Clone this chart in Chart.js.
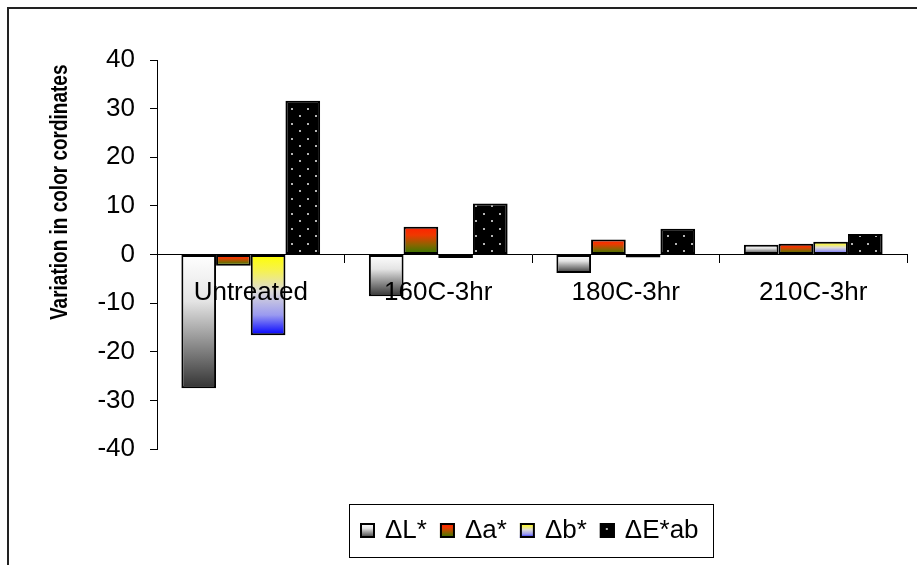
<!DOCTYPE html>
<html lang="en">
<head>
  <meta charset="UTF-8">
  <title>Variation in color coordinates</title>
  <script src="https://cdn.jsdelivr.net/npm/chart.js"></script>
  <style>
    body { margin: 0; background: #fff; }
    canvas { display: block; }
  </style>
</head>
<body>
  <canvas id="colorChart" width="917" height="565"></canvas>

  <script>
    // data
    const categories = ['Untreated', '160C-3hr', '180C-3hr', '210C-3hr'];
    const dL = [-27.5, -8.6, -3.8, 2.0];
    const da = [-2.3, 5.7, 3.1, 2.2];
    const db = [-16.6, -0.7, -0.6, 2.6];
    const dE = [31.6, 10.5, 5.3, 4.2];
    const seriesNames = ['\u0394L*', '\u0394a*', '\u0394b*', '\u0394E*ab'];
    const yTicks = [-40, -30, -20, -10, 0, 10, 20, 30, 40];

    const FONT = '"Liberation Sans", Arial, sans-serif';

    // gradient stops, top of bar -> bottom of bar
    const gradL = [[0, '#ffffff'], [0.35, '#e4e4e4'], [1, '#333333']];
    const gradA = [[0, '#ff2000'], [0.3, '#f03800'], [0.65, '#8a6400'], [1, '#2a7a00']];
    const gradB = [[0, '#ffff00'], [0.2, '#f6f250'], [0.45, '#dedcd8'], [0.75, '#9a9af0'], [1, '#0000ff']];

    function barFill(stops) {
      return (c) => {
        const chart = c.chart;
        const y = chart.scales && chart.scales.y;
        if (!y || c.type !== 'data' || y.bottom === undefined) return stops[1][1];
        const a = y.getPixelForValue(0);
        const b = y.getPixelForValue(c.raw);
        const top = Math.min(a, b), bot = Math.max(a, b);
        if (bot - top < 1) return stops[stops.length - 1][1];
        const g = chart.ctx.createLinearGradient(0, top, 0, bot);
        stops.forEach(s => g.addColorStop(s[0], s[1]));
        return g;
      };
    }

    // black with small grey dots
    function dotPattern() {
      const t = document.createElement('canvas');
      t.width = 16; t.height = 15;
      const p = t.getContext('2d');
      p.fillStyle = '#000';
      p.fillRect(0, 0, 16, 15);
      p.fillStyle = '#b4b4b4';
      p.fillRect(3, 3, 2, 2);
      p.fillRect(11, 10, 2, 2);
      return p.createPattern(t, 'repeat');
    }
    const dots = dotPattern();

    const frameAndText = {
      id: 'frameAndText',
      beforeDraw(chart) {
        const ctx = chart.ctx;
        ctx.save();
        ctx.fillStyle = '#fff';
        ctx.fillRect(0, 0, chart.width, chart.height);
        ctx.strokeStyle = '#222';
        ctx.lineWidth = 2;
        ctx.strokeRect(8, 8, chart.width + 50, chart.height + 50);
        ctx.restore();
      },
      afterDraw(chart) {
        const ctx = chart.ctx;
        const area = chart.chartArea;
        ctx.save();

        // y axis title (stretched across like in the original)
        ctx.translate(60, area.top + (area.bottom - area.top) * 0.34);
        ctx.rotate(-Math.PI / 2);
        ctx.scale(1, 1.3);
        ctx.font = 'bold 19px ' + FONT;
        ctx.fillStyle = '#000';
        ctx.textAlign = 'center';
        ctx.textBaseline = 'middle';
        ctx.fillText('Variation in color cordinates', 0, 0);
        ctx.setTransform(1, 0, 0, 1, 0, 0);

        // legend box
        ctx.font = '26px ' + FONT;
        const sw = 15, gap = 10, itemGap = 13, padL = 11, padR = 14;
        const widths = seriesNames.map(n => ctx.measureText(n).width);
        let content = 0;
        widths.forEach((w, i) => { content += sw + gap + w + (i < widths.length - 1 ? itemGap : 0); });
        const boxW = Math.round(content + padL + padR);
        const boxX = Math.round((area.left + area.right) / 2 - boxW / 2 - 1);
        const boxY = 504, boxH = 53;
        ctx.strokeStyle = '#000';
        ctx.lineWidth = 1;
        ctx.strokeRect(boxX + 0.5, boxY + 0.5, boxW, boxH);

        const fills = [gradL, gradA, gradB, null];
        let x = boxX + padL;
        const sy = 523;
        seriesNames.forEach((name, i) => {
          if (fills[i]) {
            const g = ctx.createLinearGradient(0, sy, 0, sy + sw);
            fills[i].forEach(s => g.addColorStop(s[0], s[1]));
            ctx.fillStyle = g;
          } else {
            ctx.fillStyle = '#000';
          }
          ctx.fillRect(x, sy, sw, sw);
          if (!fills[i]) {
            ctx.fillStyle = '#b4b4b4';
            ctx.fillRect(x + 6, sy + 5, 2, 2);
          }
          ctx.strokeStyle = '#000';
          ctx.lineWidth = 2;
          ctx.strokeRect(x + 1, sy + 1, sw - 2, sw - 2);
          ctx.fillStyle = '#000';
          ctx.textAlign = 'left';
          ctx.textBaseline = 'alphabetic';
          ctx.fillText(name, x + sw + gap, 538);
          x += sw + gap + widths[i] + itemGap;
        });
        ctx.restore();
      }
    };

    const barStyle = {
      borderColor: '#000',
      borderWidth: 2,
      borderSkipped: false,
      barPercentage: 1,
      categoryPercentage: 0.74
    };

    new Chart(document.getElementById('colorChart'), {
      type: 'bar',
      data: {
        labels: categories,
        datasets: [
          { label: seriesNames[0], data: dL, backgroundColor: barFill(gradL), ...barStyle },
          { label: seriesNames[1], data: da, backgroundColor: barFill(gradA), ...barStyle },
          { label: seriesNames[2], data: db, backgroundColor: barFill(gradB), ...barStyle },
          { label: seriesNames[3], data: dE, backgroundColor: dots, ...barStyle }
        ]
      },
      options: {
        responsive: false,
        animation: false,
        events: [],
        layout: { padding: { left: 0, top: 60, right: 10, bottom: 116 } },
        plugins: { legend: { display: false }, tooltip: { enabled: false } },
        scales: {
          x: {
            position: { y: 0 },
            grid: { offset: true, drawOnChartArea: false, tickLength: 8, color: '#000', lineWidth: 1 },
            border: { display: true, color: '#000', width: 1, z: 1 },
            ticks: { color: '#000', font: { family: FONT, size: 26 }, padding: 15, maxRotation: 0, z: 1 }
          },
          y: {
            min: yTicks[0],
            max: yTicks[yTicks.length - 1],
            afterFit(scale) { scale.width = 157; },
            afterBuildTicks(scale) { scale.ticks = yTicks.map(v => ({ value: v })); },
            grid: { drawOnChartArea: false, tickLength: 7, color: '#000', lineWidth: 1 },
            border: { display: true, color: '#000', width: 1 },
            ticks: { color: '#000', font: { family: FONT, size: 26 }, padding: 15 }
          }
        }
      },
      plugins: [frameAndText]
    });
  </script>
</body>
</html>
